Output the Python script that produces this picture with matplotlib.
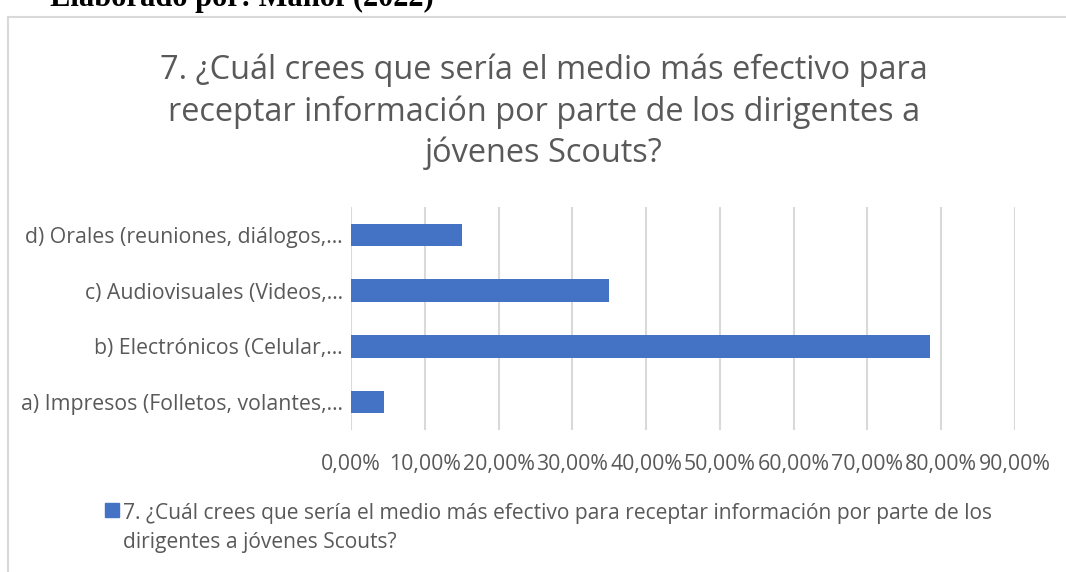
import matplotlib.pyplot as plt
from matplotlib.patches import Rectangle
from matplotlib.lines import Line2D
from matplotlib.ticker import FuncFormatter

plt.rcParams['font.family'] = ['Open Sans', 'DejaVu Sans']

categorias = [
    "a) Impresos (Folletos, volantes,…",
    "b) Electrónicos (Celular,…",
    "c) Audiovisuales (Videos,…",
    "d) Orales (reuniones, diálogos,…",
]
porcentajes = [0.045, 0.785, 0.35, 0.15]
ticks = [0.0, 0.1, 0.2, 0.3, 0.4, 0.5, 0.6, 0.7, 0.8, 0.9]

titulo = "7. ¿Cuál crees que sería el medio más efectivo para\nreceptar información por parte de los dirigentes a\njóvenes Scouts?"
serie = "7. ¿Cuál crees que sería el medio más efectivo para receptar información por parte de los\ndirigentes a jóvenes Scouts?"

azul = "#4472C4"
gris = "#595959"

fig = plt.figure(figsize=(10.66, 5.72), dpi=100)
W, H = 1066, 572

# marco del grafico (recortado en la imagen)
fig.add_artist(Line2D([8 / W, 1], [1 - 17 / H, 1 - 17 / H], color="#d9d9d9", lw=1.5))
fig.add_artist(Line2D([8 / W, 8 / W], [0, 1 - 17 / H], color="#d9d9d9", lw=1.5))

# texto del documento cortado arriba
fig.text(50 / W, 1 - 6 / H, "Elaborado por: Mahof (2022)", family="Liberation Serif",
         fontsize=22, fontweight="bold", color="black", va="baseline", ha="left")

ax = fig.add_axes([351 / W, 1 - 430 / H, (1015 - 351) / W, (430 - 207) / H])
y = range(len(categorias))
ax.barh(y, porcentajes, height=0.4, color=azul, zorder=3)
ax.set_xlim(0, 0.9)
ax.set_ylim(-0.5, len(categorias) - 0.5)
ax.set_xticks(ticks)
ax.xaxis.set_major_formatter(FuncFormatter(lambda v, p: f"{v * 100:.2f}%".replace(".", ",")))
ax.set_yticks(list(y))
ax.set_yticklabels(categorias)
ax.grid(axis="x", color="#d9d9d9", lw=1.5, zorder=0)
for s in ax.spines.values():
    s.set_visible(False)
ax.tick_params(axis="both", length=0, colors=gris, labelsize=15.3)
ax.tick_params(axis="x", pad=17)
ax.tick_params(axis="y", pad=6)

fig.text(544 / W, 1 - 112 / H, titulo, ha="center", va="center", fontsize=23.4,
         color=gris, linespacing=1.31)

# leyenda
fig.add_artist(Rectangle((105 / W, 1 - 517 / H), 14 / W, 14 / H, color=azul))
fig.text(123 / W, 1 - 528 / H, serie, ha="left", va="center", fontsize=15.1,
         color=gris, linespacing=1.55)

fig.savefig("out.png", dpi=100)
